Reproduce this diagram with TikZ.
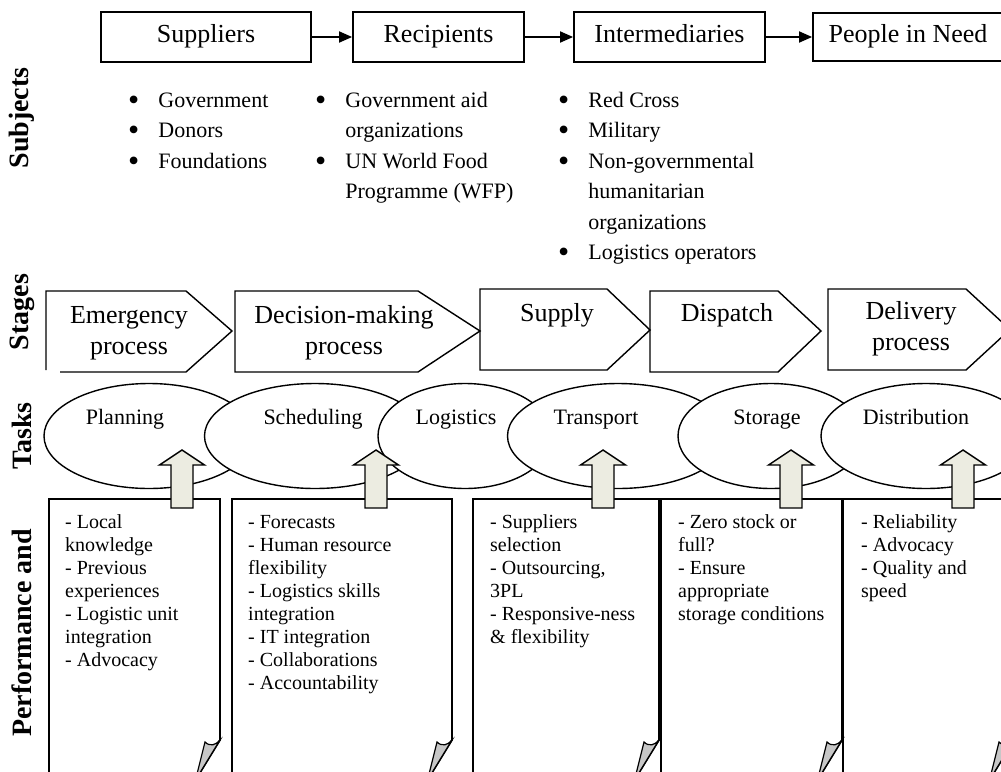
\documentclass[tikz,border=0pt]{standalone}
\usepackage{fontspec}
\setmainfont{Liberation Serif}
\usetikzlibrary{shapes.geometric, arrows.meta}
\definecolor{arrowfill}{HTML}{ECECE1}
\newcommand{\bigdot}{\raisebox{-3pt}{\fontsize{32}{32}\selectfont\textbullet}}

\begin{document}
\begin{tikzpicture}[x=1pt, y=-1pt,
		subj/.style={draw, line width=1.8pt, minimum height=50pt, inner sep=0pt, text height=18pt, text depth=6.6pt, font=\fontsize{26}{31}\selectfont},
		link/.style={-{Triangle[length=13pt, width=11pt]}, line width=1.8pt},
		row/.style={inner sep=0pt, anchor=base west, font=\fontsize{22}{30.5}\selectfont},
		side/.style={rotate=90, inner sep=0pt, font=\fontsize{28}{30}\selectfont\bfseries},
		stage/.style={draw, line width=1.4pt},
		stagetext/.style={inner sep=0pt, anchor=base, font=\fontsize{26}{31}\selectfont},
		task/.style={ellipse, draw, line width=1.4pt, fill=white, inner sep=0pt, minimum height=105pt},
		tasktext/.style={inner sep=0pt, anchor=base, font=\fontsize{22}{26}\selectfont},
		note/.style={draw, line width=1.8pt},
		fold/.style={draw, line width=1.2pt, fill=black!22},
		notetext/.style={inner sep=0pt, anchor=base west, font=\fontsize{20}{23}\selectfont},
		up/.style={draw, line width=1.4pt, fill=arrowfill}]
		\useasboundingbox (0,0) rectangle (1001,771);
		\clip (0,0) rectangle (1001,771);

		\node[side] (lsub) at (22,118) {Subjects};
		\node[side] (lsta) at (22,312) {Stages};
		\node[side] (ltas) at (22,436) {Tasks};
		\node[side] (lper) at (22,633) {Performance and};

		\node[subj, minimum width=210pt] (sup) at (206,37) {Suppliers};
		\node[subj, minimum width=171pt] (rec) at (438.5,37) {Recipients};
		\node[subj, minimum width=191pt] (int) at (669.5,37) {Intermediaries};
		\node[subj, minimum width=190pt, minimum height=48pt] (ppl) at (908,37) {People in Need};

		\draw[link] (sup) -- (rec);
		\draw[link] (rec) -- (int);
		\draw[link] (int) -- (ppl);

		\node[row] (suplist) at (128,107) {\begin{tabular}[t]{@{}l@{\hspace{19pt}}l@{}}\bigdot & Government\\ \bigdot & Donors\\ \bigdot & Foundations\end{tabular}};
		\node[row] (reclist) at (315,107) {\begin{tabular}[t]{@{}l@{\hspace{19pt}}l@{}}\bigdot & Government aid\\ & organizations\\ \bigdot & UN World Food\\ & Programme (WFP)\end{tabular}};
		\node[row] (intlist) at (558,107) {\begin{tabular}[t]{@{}l@{\hspace{19pt}}l@{}}\bigdot & Red Cross\\ \bigdot & Military\\ \bigdot & Non-governmental\\ & humanitarian\\ & organizations\\ \bigdot & Logistics operators\end{tabular}};

		\draw[stage] (46,370) -- (46,291) -- (186,291) -- (232,331) -- (186,372) -- (60,372);
		\draw[stage] (235,291) -- (418,291) -- (480,331) -- (418,372) -- (235,372) -- cycle;
		\draw[stage] (480,289) -- (607,289) -- (650,330) -- (607,370) -- (480,370) -- cycle;
		\draw[stage] (650,291) -- (778,291) -- (821,331) -- (778,372) -- (650,372) -- cycle;
		\draw[stage] (828,289) -- (966,289) -- (1010,329.5) -- (966,370) -- (828,370) -- cycle;

		\node[stagetext] (emer) at (129,323) {\begin{tabular}[t]{@{}c@{}}Emergency\\process\end{tabular}};
		\node[stagetext] (deci) at (344,323) {\begin{tabular}[t]{@{}c@{}}Decision-making\\process\end{tabular}};
		\node[stagetext] (supp) at (557,321) {Supply};
		\node[stagetext] (disp) at (727,321) {Dispatch};
		\node[stagetext] (deli) at (911,319) {\begin{tabular}[t]{@{}c@{}}Delivery\\process\end{tabular}};

		\node[task, minimum width=210pt] (plan) at (149,436) {};
		\node[task, minimum width=221pt] (sche) at (315,436) {};
		\node[task, minimum width=174pt] (logi) at (465,436) {};
		\node[task, minimum width=221pt] (tran) at (618,436) {};
		\node[task, minimum width=186pt] (stor) at (771,436) {};
		\node[task, minimum width=210pt] (dist) at (926,436) {};

		\node[tasktext] (plant) at (125,424) {Planning};
		\node[tasktext] (schet) at (313,424) {Scheduling};
		\node[tasktext] (logit) at (456,424) {Logistics};
		\node[tasktext] (trant) at (596,424) {Transport};
		\node[tasktext] (stort) at (767,424) {Storage};
		\node[tasktext] (distt) at (916,424) {Distribution};

		\foreach \l/\r in {49/220, 232/452, 473/659, 661/842, 843/1014} {
			\draw[note] (\l,790) -- (\l,499) -- (\r,499) -- (\r,740) -- (\r-24.5,780);
			\draw[fold] (\r,740) .. controls (\r-4,745) and (\r-10,747) .. (\r-15,742) -- (\r-24.5,780) -- cycle;
		}

		\node[notetext] (perf1) at (65,528) {\begin{tabular}[t]{@{}l@{}}- Local\\knowledge\\- Previous\\experiences\\- Logistic unit\\integration\\- Advocacy\end{tabular}};
		\node[notetext] (perf2) at (248,528) {\begin{tabular}[t]{@{}l@{}}- Forecasts\\- Human resource\\flexibility\\- Logistics skills\\integration\\- IT integration\\- Collaborations\\- Accountability\end{tabular}};
		\node[notetext] (perf3) at (490,528) {\begin{tabular}[t]{@{}l@{}}- Suppliers\\selection\\- Outsourcing,\\3PL\\- Responsive-ness\\\& flexibility\end{tabular}};
		\node[notetext] (perf4) at (678,528) {\begin{tabular}[t]{@{}l@{}}- Zero stock or\\full?\\- Ensure\\appropriate\\storage conditions\end{tabular}};
		\node[notetext] (perf5) at (861,528) {\begin{tabular}[t]{@{}l@{}}- Reliability\\- Advocacy\\- Quality and\\speed\end{tabular}};

		\foreach \x in {182,376,603,791,963}
			\draw[up] (\x-11,508) -- (\x-11,465) -- (\x-22.5,465) -- (\x,450) -- (\x+22.5,465) -- (\x+11,465) -- (\x+11,508) -- cycle;
	\end{tikzpicture}
\end{document}
